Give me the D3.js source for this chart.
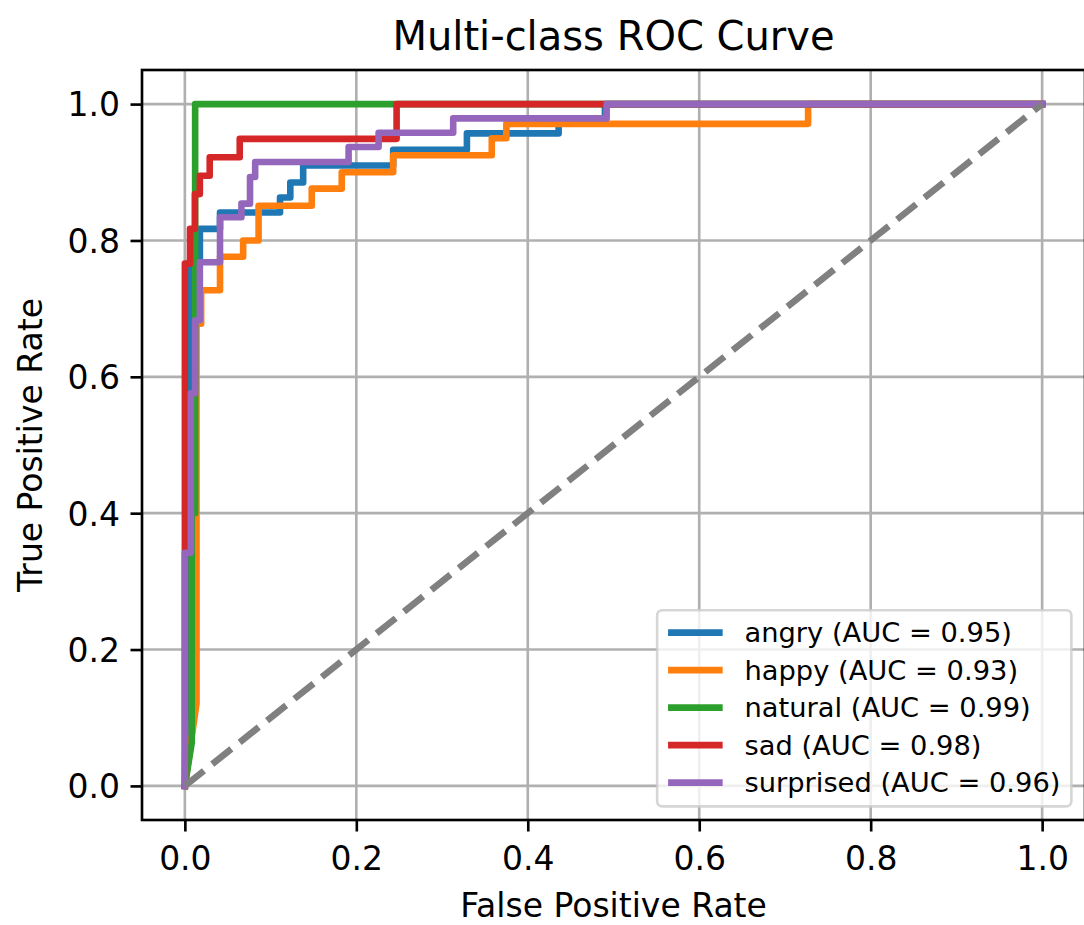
<!DOCTYPE html>
<html>
<head>
<meta charset="utf-8">
<script src="https://cdn.jsdelivr.net/npm/d3@7"></script>
<style>
  body { margin: 0; background: #fff; }
  text { font-family: "DejaVu Sans", sans-serif; fill: #000; }
</style>
</head>
<body>
<svg id="chart" width="1084" height="925"></svg>
<script>
const classes = ["angry", "happy", "natural", "sad", "surprised"];
const aucs = [0.95, 0.93, 0.99, 0.98, 0.96];
const colors = ["#1f77b4", "#ff7f0e", "#2ca02c", "#d62728", "#9467bd"];
const ticks = [0.0, 0.2, 0.4, 0.6, 0.8, 1.0];

const angryFpr = [0, 0.006, 0.006, 0.0175, 0.0175, 0.041, 0.041, 0.111, 0.111, 0.123, 0.123, 0.138, 0.138, 0.243, 0.243, 0.329, 0.329, 0.436, 0.436, 0.49, 0.49, 1];
const angryTpr = [0, 0.632, 0.771, 0.771, 0.817, 0.817, 0.841, 0.841, 0.863, 0.863, 0.885, 0.885, 0.91, 0.91, 0.933, 0.933, 0.957, 0.957, 0.978, 0.978, 1, 1];

const happyFpr = [0, 0.0136, 0.0136, 0.019, 0.019, 0.023, 0.023, 0.041, 0.041, 0.068, 0.068, 0.086, 0.086, 0.148, 0.148, 0.183, 0.183, 0.243, 0.243, 0.358, 0.358, 0.375, 0.375, 0.727, 0.727, 1];
const happyTpr = [0, 0.121, 0.678, 0.678, 0.727, 0.727, 0.727, 0.727, 0.776, 0.776, 0.80, 0.80, 0.851, 0.851, 0.876, 0.876, 0.90, 0.90, 0.925, 0.925, 0.95, 0.95, 0.971, 0.971, 1, 1];

const naturalFpr = [0, 0.008, 0.008, 0.012, 0.012, 1];
const naturalTpr = [0, 0.063, 0.40, 0.40, 1, 1];

const sadFpr = [0, 0, 0.006, 0.006, 0.0117, 0.0117, 0.0175, 0.0175, 0.029, 0.029, 0.064, 0.064, 0.247, 0.247, 1];
const sadTpr = [0, 0.766, 0.766, 0.817, 0.817, 0.868, 0.868, 0.895, 0.895, 0.922, 0.922, 0.949, 0.949, 1, 1];

const surprisedFpr = [0, 0, 0.007, 0.007, 0.012, 0.012, 0.0175, 0.0175, 0.041, 0.041, 0.066, 0.066, 0.076, 0.076, 0.082, 0.082, 0.191, 0.191, 0.226, 0.226, 0.313, 0.313, 0.492, 0.492, 1];
const surprisedTpr = [0, 0.342, 0.342, 0.576, 0.576, 0.683, 0.683, 0.768, 0.768, 0.834, 0.834, 0.854, 0.854, 0.893, 0.893, 0.915, 0.915, 0.937, 0.937, 0.958, 0.958, 0.979, 0.979, 1, 1];

const fprs = [angryFpr, happyFpr, naturalFpr, sadFpr, surprisedFpr];
const tprs = [angryTpr, happyTpr, naturalTpr, sadTpr, surprisedTpr];

var margin = { top: 70, right: -1, bottom: 105, left: 142 };
var width = 1084 - margin.left - margin.right;
var height = 925 - margin.top - margin.bottom;
var lw = 6.6;
var thin = 2.64;

var svg = d3.select("#chart");

var x = d3.scaleLinear().domain([-0.05, 1.05]).range([0, width]);
var y = d3.scaleLinear().domain([-0.05, 1.05]).range([height, 0]);

var g = svg.append("g").attr("transform", `translate(${margin.left}, ${margin.top})`);

// grid
g.append("g")
  .selectAll("line")
  .data(ticks)
  .join("line")
  .attr("x1", d => x(d))
  .attr("x2", d => x(d))
  .attr("y1", 0)
  .attr("y2", height)
  .attr("stroke", "#b0b0b0")
  .attr("stroke-width", thin);

g.append("g")
  .selectAll("line")
  .data(ticks)
  .join("line")
  .attr("x1", 0)
  .attr("x2", width)
  .attr("y1", d => y(d))
  .attr("y2", d => y(d))
  .attr("stroke", "#b0b0b0")
  .attr("stroke-width", thin);

var line = d3.line()
  .x(d => x(d[0]))
  .y(d => y(d[1]));

classes.forEach((c, i) => {
  var pts = fprs[i].map((f, j) => [f, tprs[i][j]]);
  g.append("path")
    .datum(pts)
    .attr("fill", "none")
    .attr("stroke", colors[i])
    .attr("stroke-width", lw)
    .attr("stroke-linejoin", "round")
    .attr("stroke-linecap", "square")
    .attr("d", line);
});

g.append("path")
  .datum([[0, 0], [1, 1]])
  .attr("fill", "none")
  .attr("stroke", "#808080")
  .attr("stroke-width", lw)
  .attr("stroke-dasharray", "24.4,10.6")
  .attr("d", line);

// axes
var xAxis = g.append("g")
  .attr("transform", "translate(0," + height + ")")
  .call(d3.axisBottom(x).tickValues(ticks).tickFormat(d3.format(".1f")).tickSize(11.5).tickPadding(11.5));
var yAxis = g.append("g")
  .call(d3.axisLeft(y).tickValues(ticks).tickFormat(d3.format(".1f")).tickSize(11.5).tickPadding(11.5));

[xAxis, yAxis].forEach(a => {
  a.select(".domain").remove();
  a.selectAll(".tick line").attr("stroke", "#000").attr("stroke-width", thin);
  a.selectAll(".tick text").attr("font-size", 33).attr("font-family", "DejaVu Sans").attr("fill", "#000");
});
xAxis.selectAll(".tick text").attr("dy", null).attr("y", 50);
yAxis.selectAll(".tick text").attr("dy", "0.36em").attr("x", -22);

g.append("rect")
  .attr("width", width)
  .attr("height", height)
  .attr("fill", "none")
  .attr("stroke", "#000")
  .attr("stroke-width", thin);

// legend
var fs = 27.3;
var rowStep = 37.5;
var legend = g.append("g");
var box = legend.append("rect")
  .attr("fill", "#fff")
  .attr("fill-opacity", 0.8)
  .attr("stroke", "#cccccc")
  .attr("stroke-opacity", 0.8)
  .attr("stroke-width", thin)
  .attr("rx", 5);

var labels = legend.selectAll("text")
  .data(classes)
  .join("text")
  .attr("font-size", fs)
  .text((d, i) => `${d} (AUC = ${aucs[i].toFixed(2)})`);

var maxW = d3.max(labels.nodes(), n => n.getComputedTextLength());
var pad = 0.4 * fs;
var boxW = pad * 2 + 2 * fs + 0.8 * fs + maxW;
var boxH = pad * 2 + 4 * rowStep + 0.89 * fs;
var bx = width - 0.5 * fs - boxW;
var by = height - 0.5 * fs - boxH;
box.attr("x", bx).attr("y", by).attr("width", boxW).attr("height", boxH);

labels
  .attr("x", bx + pad + 2.8 * fs)
  .attr("y", (d, i) => by + pad + 0.42 * fs + i * rowStep)
  .attr("dy", "0.36em");

legend.selectAll("line")
  .data(classes)
  .join("line")
  .attr("x1", bx + pad)
  .attr("x2", bx + pad + 2 * fs)
  .attr("y1", (d, i) => by + pad + 0.42 * fs + i * rowStep)
  .attr("y2", (d, i) => by + pad + 0.42 * fs + i * rowStep)
  .attr("stroke", (d, i) => colors[i])
  .attr("stroke-width", lw);

// titles
svg.append("text")
  .attr("x", margin.left + width / 2)
  .attr("y", 50)
  .attr("text-anchor", "middle")
  .attr("font-size", 40)
  .text("Multi-class ROC Curve");

svg.append("text")
  .attr("x", margin.left + width / 2)
  .attr("y", 917)
  .attr("text-anchor", "middle")
  .attr("font-size", 33)
  .text("False Positive Rate");

svg.append("text")
  .attr("transform", `translate(42, ${margin.top + height / 2}) rotate(-90)`)
  .attr("text-anchor", "middle")
  .attr("font-size", 33)
  .text("True Positive Rate");
</script>
</body>
</html>
